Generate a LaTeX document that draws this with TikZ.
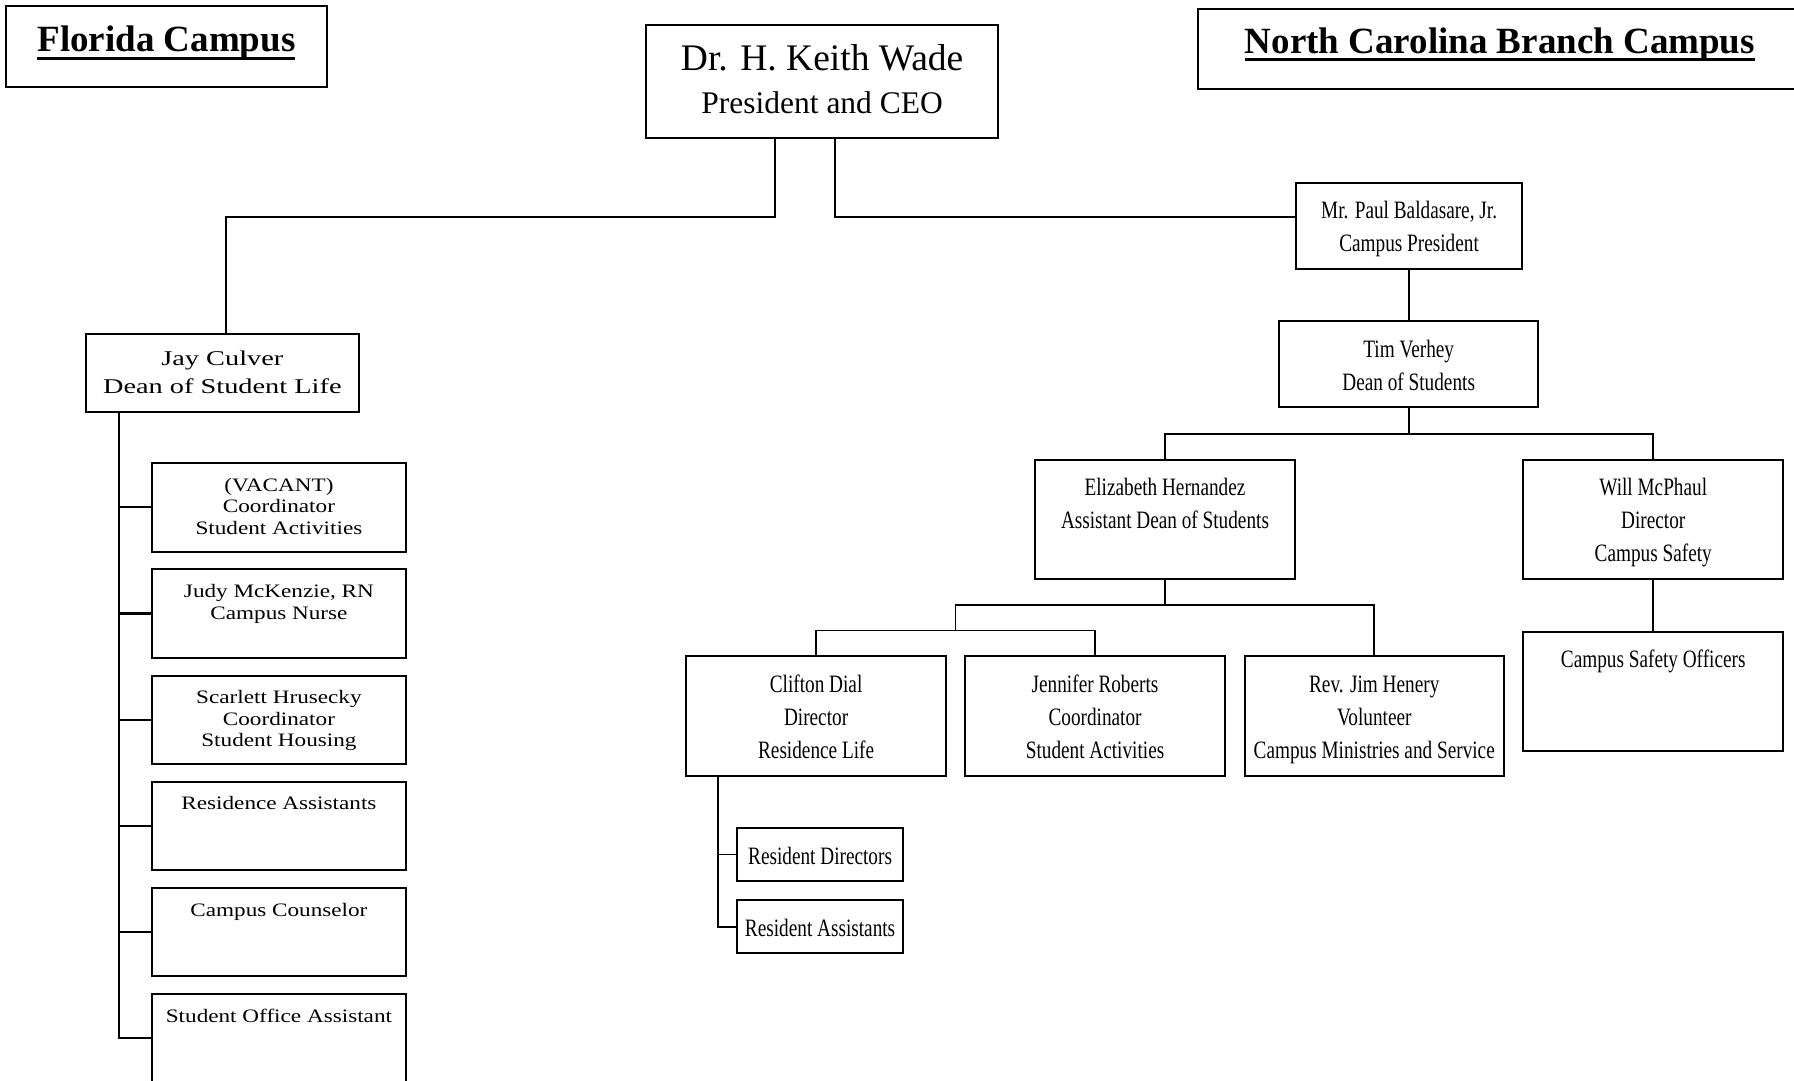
\documentclass[tikz,border=0pt]{standalone}
\usepackage{fontspec}
\setmainfont{Liberation Serif}
\newfontfamily\ncfont[FakeStretch=0.77]{Liberation Serif}
\newfontfamily\flfont[FakeStretch=1.22]{Liberation Serif}
\newfontfamily\jayfont[FakeStretch=1.35]{Liberation Serif}
\newcommand{\sN}{\rule[-7pt]{0pt}{33pt}}
\newcommand{\sF}{\rule[-5.35pt]{0pt}{21.6pt}}
\newcommand{\sJ}{\rule[-8pt]{0pt}{28.3pt}}
\newcommand{\sW}{\rule[-11.3pt]{0pt}{43.3pt}}
\newsavebox\ulbox
\newcommand{\ulx}[1]{\sbox\ulbox{#1}\rlap{\rule[-8.1pt]{\wd\ulbox}{3pt}}\usebox\ulbox}
\begin{document}
\begin{tikzpicture}[x=1pt,y=-1pt,
  box/.style={draw,line width=2pt,inner sep=0pt,outer sep=0pt,align=center},
  nbox/.style={box,font=\ncfont\fontsize{25}{33}\selectfont},
  fbox/.style={box,font=\flfont\fontsize{19}{21.6}\selectfont,minimum width=254.9pt,minimum height=88.3pt},
  wconn/.style={line width=2pt},
  nconn/.style={line width=1.8pt},
  fconn/.style={line width=2.2pt}]
\useasboundingbox (0,0) rectangle (1794,1081);
\fill[white] (0,0) rectangle (1794,1081);
\clip (0,0) rectangle (1794,1081);

% headers
\node[box,minimum width=321.5pt,minimum height=80.8pt,font=\bfseries\fontsize{37}{44}\selectfont] (flhead) at (166.45,46.9) {\rule[-20pt]{0pt}{50pt}\ulx{Florida Campus}};
\node[box,minimum width=604.2pt,minimum height=80pt,font=\bfseries\fontsize{37}{44}\selectfont] (nchead) at (1499.9,49.3) {\rule[-21pt]{0pt}{50pt}\ulx{North Carolina Branch Campus}};

% top
\node[box,minimum width=351.7pt,minimum height=112.7pt,font=\fontsize{37.5}{43.3}\selectfont] (wade) at (822.15,81.35) {\sW Dr. H. Keith Wade\\\sW{\fontsize{31.5}{43.3}\selectfont President and CEO}};

% Florida
\node[box,minimum width=272.5pt,minimum height=77.4pt,font=\jayfont\fontsize{21}{28.3}\selectfont] (jay) at (222.35,373) {\sJ Jay Culver\\\sJ Dean of Student Life};
\node[fbox] (fl1) at (278.95,507.35) {\sF(VACANT)\\\sF Coordinator\\\sF Student Activities};
\node[fbox] (fl2) at (278.95,613.55) {\sF Judy McKenzie, RN\\\sF Campus Nurse\\\sF};
\node[fbox] (fl3) at (278.95,719.75) {\sF Scarlett Hrusecky\\\sF Coordinator\\\sF Student Housing};
\node[fbox] (fl4) at (278.95,825.95) {\sF Residence Assistants\\\sF\\\sF};
\node[fbox] (fl5) at (278.95,932.15) {\sF Campus Counselor\\\sF\\\sF};
\node[fbox] (fl6) at (278.95,1038.35) {\sF Student Office Assistant\\\sF\\\sF};

% North Carolina
\node[nbox,minimum width=225.8pt,minimum height=86pt] (bald) at (1409.1,225.7) {\sN Mr. Paul Baldasare, Jr.\\\sN Campus President};
\node[nbox,minimum width=259.4pt,minimum height=86.3pt] (verhey) at (1408.7,364.15) {\sN Tim Verhey\\\sN Dean of Students};
\node[nbox,minimum width=259.2pt,minimum height=118.7pt] (hern) at (1165,519.25) {\sN Elizabeth Hernandez\\\sN Assistant Dean of Students\\\sN};
\node[nbox,minimum width=260.3pt,minimum height=118.7pt] (mcph) at (1653.25,519.25) {\sN Will McPhaul\\\sN Director\\\sN Campus Safety};
\node[nbox,minimum width=260.3pt,minimum height=119.2pt] (cso) at (1653.25,691.4) {\sN Campus Safety Officers\\\sN\\\sN};
\node[nbox,minimum width=259.4pt,minimum height=119.6pt] (clif) at (816.1,716.1) {\sN Clifton Dial\\\sN Director\\\sN Residence Life};
\node[nbox,minimum width=259.5pt,minimum height=119.6pt] (jenn) at (1095.05,716.1) {\sN Jennifer Roberts\\\sN Coordinator\\\sN Student Activities};
\node[nbox,minimum width=259.5pt,minimum height=119.6pt] (rev) at (1374.25,716.1) {\sN Rev. Jim Henery\\\sN Volunteer\\\sN Campus Ministries and Service};
\node[nbox,minimum width=166.4pt,minimum height=53.5pt] (rdir) at (820.1,854.55) {\sN Resident Directors};
\node[nbox,minimum width=166.4pt,minimum height=53.2pt] (rasst) at (820.1,926.6) {\sN Resident Assistants};

% coordinates
\coordinate (wadeL) at ([xshift=-46.85pt]wade.south);
\coordinate (wadeR) at ([xshift=12.85pt]wade.south);
\coordinate (busA) at (0,216.7);
\coordinate (jayT) at ([xshift=3.45pt]jay.north);
\coordinate (jayB) at ([xshift=-103.75pt]jay.south);
\coordinate (busB) at (0,434);
\coordinate (jn1) at (955.4,605.2);
\coordinate (jn2) at (955.4,630.5);
\coordinate (clifB) at ([xshift=-98pt]clif.south);

% connectors
\draw[wconn] (wadeL) -- (wadeL |- busA) -| (jayT);
\draw[wconn] (wadeR) -- (wadeR |- busA) -- (busA -| bald.west);
\draw[nconn] (bald.south) -- (bald.south |- verhey.north);
\draw[nconn] (verhey.south) -- (verhey.south |- busB);
\draw[nconn] (hern.north) -- (hern.north |- busB) -| (mcph.north);
\draw[nconn] (hern.south) -- (hern.south |- jn1);
\draw[nconn] (rev.north) |- (jn1) -- (jn2);
\draw[nconn] (clif.north) |- (jn2) -| (jenn.north);
\draw[nconn] (clifB) |- (rdir.west);
\draw[nconn] (clifB) |- (rasst.west);
\draw[nconn] (mcph.south) -- (cso.north);
\foreach \i in {1,...,6} \draw[fconn] (jayB) |- (fl\i.west);
\end{tikzpicture}
\end{document}
